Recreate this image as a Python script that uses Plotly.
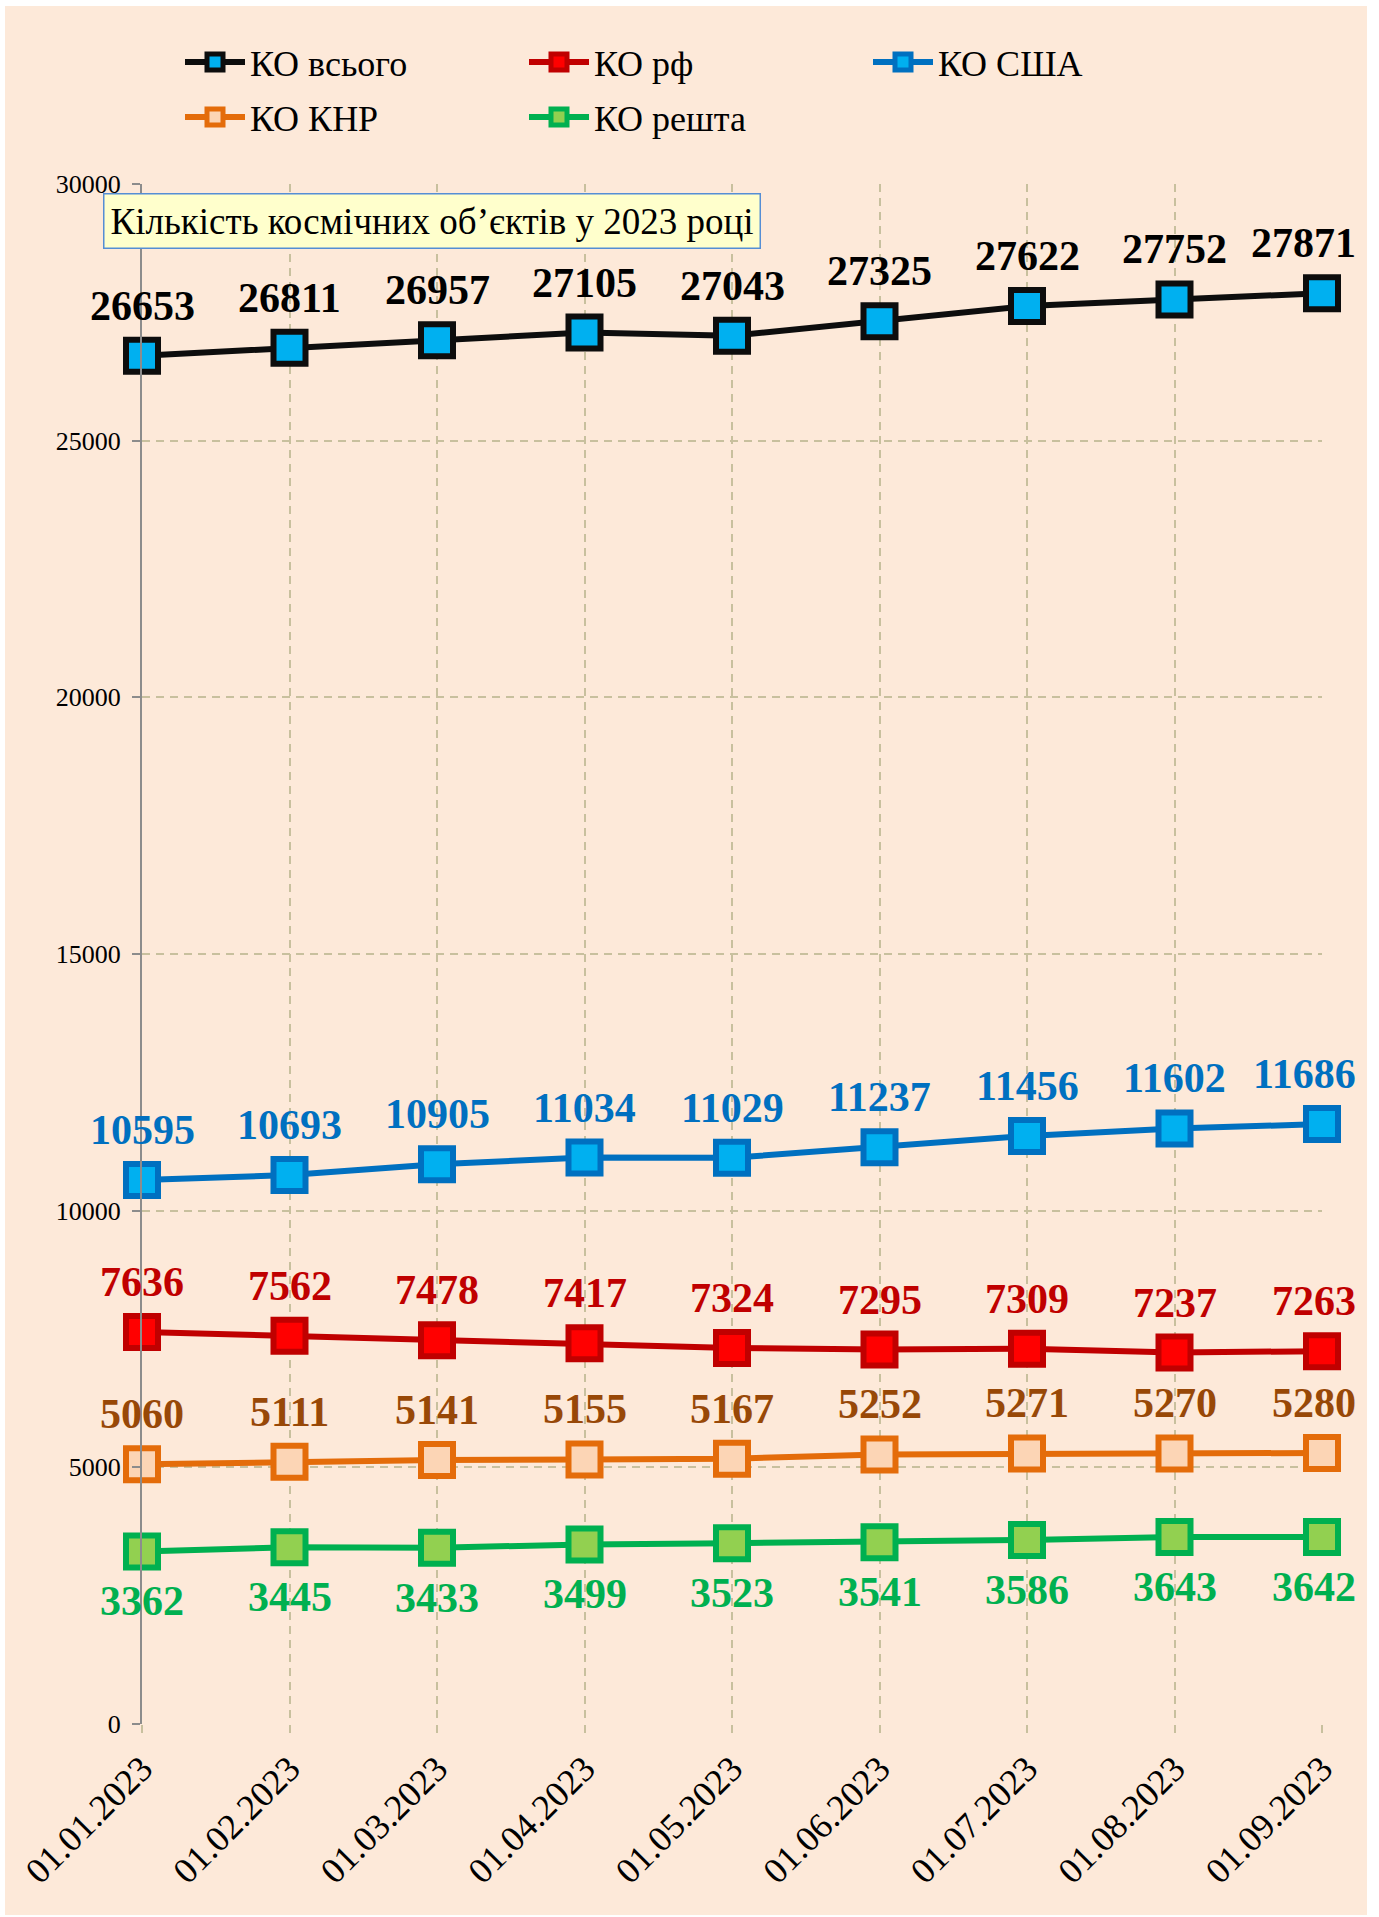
import plotly.graph_objects as go

dates = ["01.01.2023", "01.02.2023", "01.03.2023", "01.04.2023", "01.05.2023",
         "01.06.2023", "01.07.2023", "01.08.2023", "01.09.2023"]
ko_total = [26653, 26811, 26957, 27105, 27043, 27325, 27622, 27752, 27871]
ko_rf = [7636, 7562, 7478, 7417, 7324, 7295, 7309, 7237, 7263]
ko_usa = [10595, 10693, 10905, 11034, 11029, 11237, 11456, 11602, 11686]
ko_china = [5060, 5111, 5141, 5155, 5167, 5252, 5271, 5270, 5280]
ko_rest = [3362, 3445, 3433, 3499, 3523, 3541, 3586, 3643, 3642]
y_ticks = [0, 5000, 10000, 15000, 20000, 25000, 30000]
title_text = "Кількість космічних об’єктів у 2023 році"

FONT = "Times New Roman, Liberation Serif, serif"
W, H = 1379, 1917
ML, MR, MT, MB = 142, 57, 184, 193
PW, PH = W - ML - MR, H - MT - MB


def px2paper_x(px):
    return (px - ML) / PW


def px2paper_y(py):
    return (H - MB - py) / PH


series = [
    ("КО всього", ko_total, "#0D0D0D", "#00B0F0", "#0D0D0D", "#000000", 1, "legend"),
    ("КО рф", ko_rf, "#C00000", "#FF0000", "#C00000", "#C00000", 1, "legend"),
    ("КО США", ko_usa, "#0070C0", "#00B0F0", "#0070C0", "#0070C0", 1, "legend"),
    ("КО КНР", ko_china, "#E46C0A", "#FCD5B5", "#E46C0A", "#984807", 1, "legend2"),
    ("КО решта", ko_rest, "#00B050", "#92D050", "#00B050", "#00B050", -1, "legend2"),
]

fig = go.Figure()
annotations = []
last = len(dates) - 1
for name, vals, lc, fill, border, tc, side, lg in series:
    fig.add_trace(go.Scatter(
        x=dates, y=vals, name=name, mode="lines+markers", legend=lg,
        line=dict(color=lc, width=6),
        marker=dict(symbol="square", size=32, color=fill,
                    line=dict(color=border, width=6)),
        cliponaxis=False,
    ))
    for i, (d, v) in enumerate(zip(dates, vals)):
        ann = dict(
            x=d, y=v, xref="x", yref="y", text=f"<b>{v}</b>", showarrow=False,
            yshift=50 * side, font=dict(family=FONT, size=42, color=tc),
        )
        if i == last:
            ann.update(xanchor="right", xshift=36)
        annotations.append(ann)

annotations.append(dict(
    x=px2paper_x(103), y=px2paper_y(193), xref="paper", yref="paper",
    xanchor="left", yanchor="top", text=title_text, showarrow=False,
    font=dict(family=FONT, size=37, color="#000000"),
    bgcolor="#FFFFCC", bordercolor="#558ED5", borderwidth=1.5, borderpad=6,
))

grid_col = "#C8C09E"
legend_common = dict(orientation="h", xanchor="left", yanchor="middle",
                     font=dict(family=FONT, size=36, color="#000000"),
                     bgcolor="rgba(0,0,0,0)", entrywidth=269,
                     entrywidthmode="pixels", itemwidth=60)
fig.update_layout(
    width=W, height=H, autosize=False,
    margin=dict(l=ML, r=MR, t=MT, b=MB, pad=0),
    paper_bgcolor="#FFFFFF", plot_bgcolor="rgba(0,0,0,0)",
    font=dict(family=FONT, color="#000000"),
    annotations=annotations,
    shapes=[dict(type="rect", xref="paper", yref="paper", layer="below",
                 x0=px2paper_x(5), x1=px2paper_x(1367),
                 y0=px2paper_y(1915), y1=px2paper_y(6),
                 fillcolor="#FDE9D9", line=dict(width=0))],
    showlegend=True,
    legend=dict(x=px2paper_x(180), y=px2paper_y(62), **legend_common),
    legend2=dict(x=px2paper_x(180), y=px2paper_y(117), **legend_common),
    xaxis=dict(type="category", range=[0, last], showgrid=True,
               gridcolor=grid_col, gridwidth=2, griddash="8px,6px",
               showline=False, zeroline=False, ticks="outside", ticklen=8,
               tickcolor=grid_col, tickwidth=2, tickangle=-45,
               tickfont=dict(family=FONT, size=36, color="#000000")),
    yaxis=dict(range=[0, 30000], tickvals=y_ticks, ticktext=[str(t) for t in y_ticks],
               showgrid=True, gridcolor=grid_col, gridwidth=2, griddash="8px,6px",
               zeroline=False, showline=True, linecolor="#8C8C8C", linewidth=2,
               ticks="outside", ticklen=8, tickcolor="#8C8C8C", tickwidth=2,
               ticklabelstandoff=6,
               tickfont=dict(family=FONT, size=26, color="#000000")),
)

fig.write_html("out.html", config={"displayModeBar": False},
               post_script="document.body.style.margin='0';"
                           "document.body.style.overflow='hidden';")
